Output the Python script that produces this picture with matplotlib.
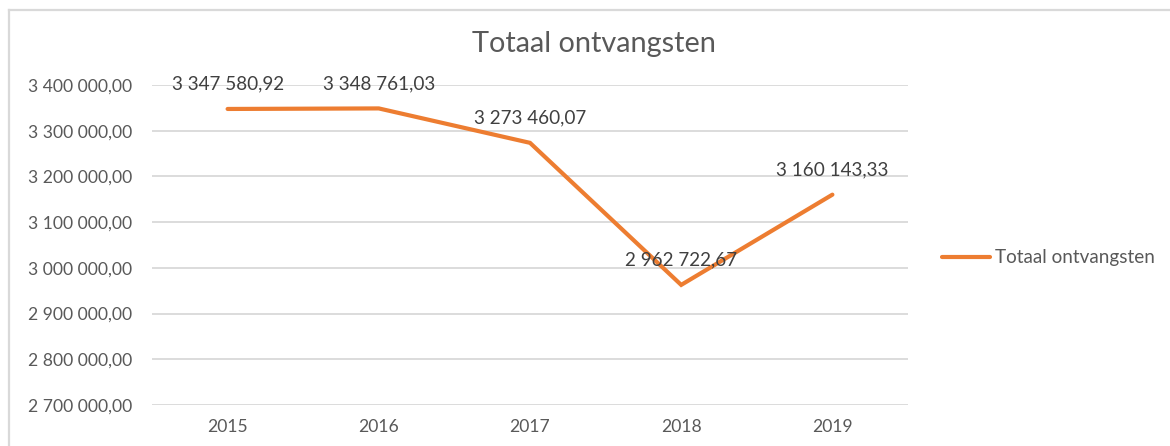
import matplotlib
matplotlib.use("Agg")
import matplotlib.pyplot as plt
from matplotlib.lines import Line2D
from matplotlib.ticker import FuncFormatter

years = ["2015", "2016", "2017", "2018", "2019"]
values = [3347580.92, 3348761.03, 3273460.07, 2962722.67, 3160143.33]
series_name = "Totaal ontvangsten"
title = "Totaal ontvangsten"
yticks = [2700000, 2800000, 2900000, 3000000, 3100000, 3200000, 3300000, 3400000]

FONT = ["Lato", "DejaVu Sans"]
plt.rcParams["font.family"] = FONT
TXT = "#595959"
ORANGE = "#ED7D31"
GRID = "#D9D9D9"


def fmt(v, pos=None):
    s = f"{v:,.2f}"
    return s.replace(",", " ").replace(".", ",")


W, H = 1170, 446
fig = plt.figure(figsize=(W / 100, H / 100), dpi=100)
fig.patch.set_facecolor("white")

ax = fig.add_axes([152 / W, 1 - 405 / H, (908 - 152) / W, (405 - 85) / H])
x = list(range(len(years)))
ax.plot(x, values, color=ORANGE, lw=3.0, solid_capstyle="round", solid_joinstyle="miter",
        label=series_name, zorder=3)
ax.set_xlim(-0.5, len(years) - 0.5)
ax.set_ylim(yticks[0], yticks[-1])
ax.set_yticks(yticks)
ax.yaxis.set_major_formatter(FuncFormatter(fmt))
ax.set_xticks(x)
ax.set_xticklabels(years)
ax.grid(axis="y", color=GRID, lw=1.3, zorder=0)
ax.set_axisbelow(True)
for s in ax.spines.values():
    s.set_visible(False)
ax.tick_params(axis="both", length=0, labelsize=12.6, colors=TXT)
ax.tick_params(axis="y", pad=14)
ax.tick_params(axis="x", pad=10)
for lab in ax.get_xticklabels() + ax.get_yticklabels():
    lab.set_color(TXT)

for xi, v in zip(x, values):
    ax.annotate(fmt(v), (xi, v), xytext=(0, 18), textcoords="offset points",
                ha="center", va="center", fontsize=13.6, color="#404040", zorder=4,
                annotation_clip=False)

fig.text(594 / W, 1 - 44 / H, title, ha="center", va="center", fontsize=20.8, color=TXT)

leg = fig.legend(loc="center left", bbox_to_anchor=(942 / W, 1 - 258 / H), frameon=False,
                 fontsize=13.6, handlelength=2.55, handletextpad=0.27, borderpad=0,
                 borderaxespad=0)
for t in leg.get_texts():
    t.set_color(TXT)

# chart border (top and left visible)
fig.add_artist(Line2D([9 / W, 1.01], [1 - 10 / H, 1 - 10 / H], color=GRID, lw=1.6,
                      transform=fig.transFigure))
fig.add_artist(Line2D([9 / W, 9 / W], [1 - 10 / H, -0.01], color=GRID, lw=1.6,
                      transform=fig.transFigure))

fig.savefig("out.png", dpi=100, facecolor="white")
